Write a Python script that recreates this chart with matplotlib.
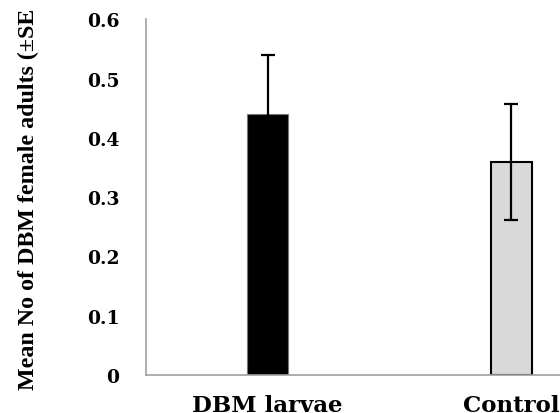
import matplotlib
matplotlib.use("Agg")
from matplotlib import pyplot as plt

# treatment groups, mean counts and standard errors
groups = ["DBM larvae", "Control"]
means = [0.44, 0.36]
errors = [0.10, 0.098]
y_ticks = [0, 0.1, 0.2, 0.3, 0.4, 0.5, 0.6]
y_tick_labels = ["0", "0.1", "0.2", "0.3", "0.4", "0.5", "0.6"]

fig = plt.figure(figsize=(5.6, 4.14), dpi=100)
fig.patch.set_facecolor("white")

# axes run past the right edge of the figure so the second group sits near it
ax = fig.add_axes([0.2607, 0.0918, 0.8696, 0.8587])

x = range(len(groups))
ax.bar(x, means, width=0.168, color=["black", "#d9d9d9"],
       edgecolor=["#777777", "black"], linewidth=[0.8, 1.5], zorder=2)
ax.errorbar(x, means, yerr=errors, fmt="none", ecolor="black",
            elinewidth=1.6, capsize=5, capthick=1.6, zorder=3)

ax.set_xlim(-0.5, 1.5)
ax.set_ylim(0, 0.6)
ax.set_yticks(y_ticks)
ax.set_yticklabels(y_tick_labels)
ax.set_xticks(list(x))
ax.set_xticklabels(groups)

for side in ["top", "right"]:
    ax.spines[side].set_visible(False)
for side in ["left", "bottom"]:
    ax.spines[side].set_color("#a0a0a0")
    ax.spines[side].set_linewidth(1.2)

ax.tick_params(axis="both", length=0)
ax.tick_params(axis="y", pad=19)
ax.tick_params(axis="x", pad=14)
for lab in ax.get_yticklabels():
    lab.set_fontfamily("DejaVu Serif")
    lab.set_fontweight("bold")
    lab.set_fontsize(13.5)
for lab in ax.get_xticklabels():
    lab.set_fontfamily("DejaVu Serif")
    lab.set_fontweight("bold")
    lab.set_fontsize(16.5)

fig.text(0.05, 1 - 390 / 414, "Mean No of DBM female adults (\u00b1SE",
         rotation=90, ha="center", va="bottom", fontsize=17.3,
         fontweight="bold", family="Liberation Serif")

fig.savefig("out.png", dpi=100)
